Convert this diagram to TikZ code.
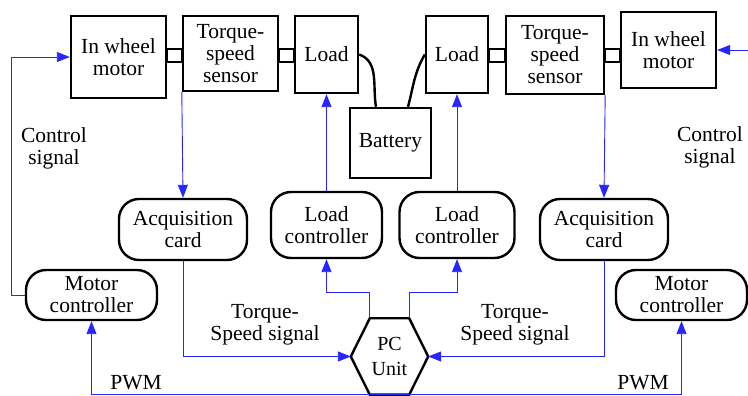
\documentclass[tikz,border=0pt]{standalone}
\usepackage{fontspec}
\setmainfont{Liberation Serif}
\usetikzlibrary{arrows.meta}
\definecolor{sigblue}{HTML}{2626FF}
\definecolor{ink}    {HTML}{000000}

\begin{document}
\begin{tikzpicture}[x=1pt, y=1pt, font=\fontsize{21.5}{22}\selectfont,
    box/.style={draw=ink, line width=2.4pt, inner sep=0pt, align=center},
    rbox/.style={box, rounded corners=20pt},
    couple/.style={draw=ink, line width=2.4pt},
    sigline/.style={sigblue, line width=0.9pt, -{Triangle[length=13pt, width=10pt]}},
    lbl/.style={align=center, inner sep=0pt}]
  \useasboundingbox (0,0) rectangle (748,396);
  % top row
  \node[box, minimum width=95pt, minimum height=82pt] (lmotor)  at (118.5,339)   {In wheel\\motor};
  \node[box, minimum width=95pt, minimum height=75pt] (lsensor) at (230.5,342.5) {Torque-\\speed\\sensor};
  \node[box, minimum width=63pt, minimum height=77pt] (lload)   at (326.5,341.5) {Load};
  \node[box, minimum width=81pt, minimum height=70pt] (battery) at (390.5,253)   {Battery};
  \node[box, minimum width=62pt, minimum height=77pt] (rload)   at (457,341.5)   {Load};
  \node[box, minimum width=98pt, minimum height=78pt] (rsensor) at (555,341)     {Torque-\\speed\\sensor};
  \node[box, minimum width=95pt, minimum height=76pt] (rmotor)  at (668.5,346)   {In wheel\\motor};
  \draw[couple] (lmotor.east |- 0,347)  rectangle (lsensor.west |- 0,334);
  \draw[couple] (lsensor.east |- 0,347) rectangle (lload.west |- 0,334);
  \draw[couple] (rload.east |- 0,347)   rectangle (rsensor.west |- 0,334);
  \draw[couple] (rsensor.east |- 0,347) rectangle (rmotor.west |- 0,334);
  \draw[couple] (lload.east) to[out=-20, in=100] ([xshift=-14.5pt]battery.north);
  \draw[couple] ([xshift=17.5pt]battery.north) to[out=75, in=-120] (rload.west);
  % controllers
  \node[rbox, minimum width=128pt, minimum height=61pt] (lacq) at (183,166.5)  {Acquisition\\card};
  \node[rbox, minimum width=111pt, minimum height=66pt] (lcl)  at (326.5,171)  {Load\\controller};
  \node[rbox, minimum width=115pt, minimum height=66pt] (rcl)  at (457,171)    {Load\\controller};
  \node[rbox, minimum width=128pt, minimum height=61pt] (racq) at (604,166.5)  {Acquisition\\card};
  \node[rbox, minimum width=131pt, minimum height=50pt] (lmc)  at (91.5,101)   {Motor\\controller};
  \node[rbox, minimum width=131pt, minimum height=50pt] (rmc)  at (681.5,101)  {Motor\\controller};
  \node[lbl, minimum width=77pt, minimum height=76pt, font=\fontsize{20}{25}\selectfont] (pc) at (389.5,39.5) {PC\\Unit};
  \draw[couple, line join=miter] (pc.west) -- ([xshift=19pt]pc.north west) -- ([xshift=-19pt]pc.north east)
    -- (pc.east) -- ([xshift=-19pt]pc.south east) -- ([xshift=19pt]pc.south west) -- cycle;
  \coordinate (redge) at (748,346);
  % signals
  \draw[sigline] (lsensor.south west) -- (lacq.north);
  \draw[sigline] (rsensor.south east) -- (racq.north);
  \draw[sigline] (lcl.north) -- (lcl.north |- lload.south);
  \draw[sigline] (rcl.north) -- (rcl.north |- rload.south);
  \draw[sigline] ([xshift=19pt]pc.north west) -- ++(0,26) -| (lcl.south);
  \draw[sigline] ([xshift=-19pt]pc.north east) -- ++(0,26) -| (rcl.south);
  \draw[sigline] (lacq.south) |- (pc.west);
  \draw[sigline] (racq.south) |- (pc.east);
  \draw[sigline] (pc.south) -| (lmc.south);
  \draw[sigline] (pc.south) -| (rmc.south);
  \draw[sigline] (lmc.west) -- ++(-13,0) |- (lmotor.west);
  \draw[sigline] (redge) -- (rmotor.east);
  % labels
  \node[lbl] (lctl)  at (54,248)  {Control\\signal};
  \node[lbl] (rctl)  at (710,249) {Control\\signal};
  \node[lbl] (lts)   at (265,71)  {Torque-\\Speed signal};
  \node[lbl] (rts)   at (515,71)  {Torque-\\Speed signal};
  \node[lbl] (lpwm)  at (136,13)  {PWM};
  \node[lbl] (rpwm)  at (643,13)  {PWM};
\end{tikzpicture}
\end{document}
